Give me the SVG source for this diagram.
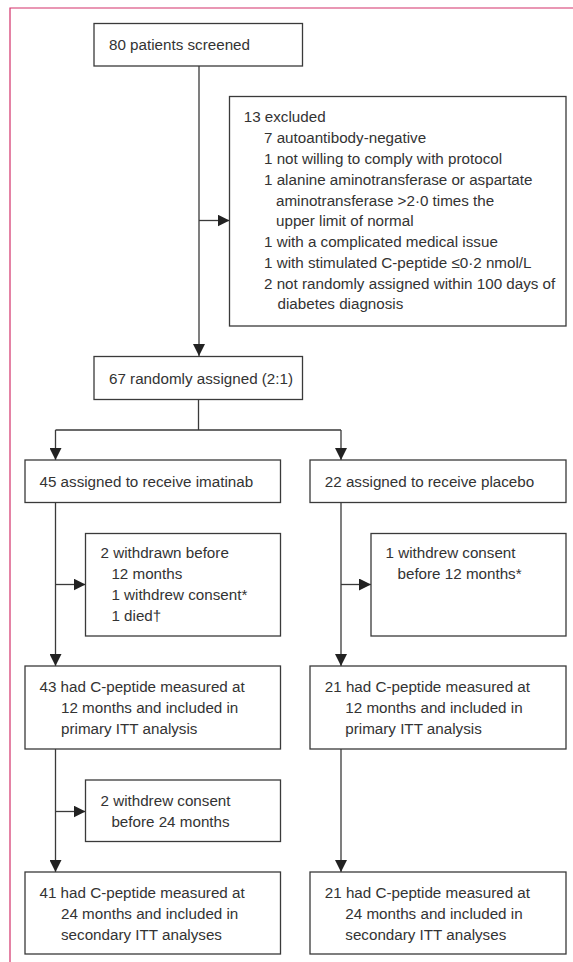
<svg xmlns="http://www.w3.org/2000/svg" width="573" height="962" viewBox="0 0 573 962">
<style>
.box{fill:#fff;stroke:#3a3a3a;stroke-width:1.3}
.t{font-family:"Liberation Sans",Arial,sans-serif;font-size:15.2px;fill:#333}
.c{fill:none;stroke:#3a3a3a;stroke-width:1.3}
.frame{fill:none;stroke:#d3306a;stroke-width:1.2}
</style>
<defs>
<marker id="ah" markerUnits="userSpaceOnUse" markerWidth="12" markerHeight="12" refX="12" refY="6" orient="auto">
<path d="M0,0 L12,6 L0,12 z" fill="#222"/>
</marker>
</defs>
<rect width="573" height="962" fill="#fff"/>
<path class="frame" d="M10,962 V8 H573"/>
<g id="connectors">
<path class="c" d="M199,66 V356" marker-end="url(#ah)"/>
<path class="c" d="M199,220.5 H229.5" marker-end="url(#ah)"/>
<path class="c" d="M198.5,399.5 V430 M55.5,430 H341"/>
<path class="c" d="M55.5,430 V460" marker-end="url(#ah)"/>
<path class="c" d="M341,430 V460" marker-end="url(#ah)"/>
<path class="c" d="M55.5,502.5 V666" marker-end="url(#ah)"/>
<path class="c" d="M55.5,584.5 H85.5" marker-end="url(#ah)"/>
<path class="c" d="M341,502.5 V666" marker-end="url(#ah)"/>
<path class="c" d="M341,584.5 H371" marker-end="url(#ah)"/>
<path class="c" d="M55.5,749 V872" marker-end="url(#ah)"/>
<path class="c" d="M55.5,811.5 H85.5" marker-end="url(#ah)"/>
<path class="c" d="M341,749 V872" marker-end="url(#ah)"/>
</g>
<g id="screened">
<rect class="box" x="94" y="23.5" width="208.5" height="42.5"/>
<text class="t" x="109" y="50">80 patients screened</text>
</g>
<g id="excluded">
<rect class="box" x="229.5" y="96.5" width="336.5" height="229.5"/>
<text class="t" x="243.7" y="122.3">13 excluded</text>
<text class="t" x="264" y="143.3">7 autoantibody-negative</text>
<text class="t" x="264" y="164">1 not willing to comply with protocol</text>
<text class="t" x="264" y="185">1 alanine aminotransferase or aspartate</text>
<text class="t" x="276" y="205.5">aminotransferase &gt;2·0 times the</text>
<text class="t" x="276" y="226">upper limit of normal</text>
<text class="t" x="264" y="247">1 with a complicated medical issue</text>
<text class="t" x="264" y="268">1 with stimulated C-peptide ≤0·2 nmol/L</text>
<text class="t" x="264" y="288.7">2 not randomly assigned within 100 days of</text>
<text class="t" x="277.5" y="309">diabetes diagnosis</text>
</g>
<g id="randomised">
<rect class="box" x="94" y="356.5" width="208.5" height="43"/>
<text class="t" x="109" y="383.5">67 randomly assigned (2:1)</text>
</g>
<g id="imatinib">
<rect class="box" x="25" y="460" width="255.5" height="42.5"/>
<text class="t" x="39.5" y="486.5">45 assigned to receive imatinab</text>
</g>
<g id="placebo">
<rect class="box" x="310" y="460" width="256" height="42.5"/>
<text class="t" x="324.8" y="486.5">22 assigned to receive placebo</text>
</g>
<g id="withdrawn-imatinib-12">
<rect class="box" x="85.5" y="533.5" width="195" height="102.5"/>
<text class="t" x="100.5" y="558.3">2 withdrawn before</text>
<text class="t" x="111.4" y="579">12 months</text>
<text class="t" x="111.4" y="600">1 withdrew consent*</text>
<text class="t" x="111.4" y="620.7">1 died†</text>
</g>
<g id="withdrawn-placebo-12">
<rect class="box" x="371" y="533.5" width="195" height="102.5"/>
<text class="t" x="385.5" y="558.3">1 withdrew consent</text>
<text class="t" x="397.5" y="579">before 12 months*</text>
</g>
<g id="imatinib-12">
<rect class="box" x="25" y="666" width="255.5" height="83"/>
<text class="t" x="39.5" y="692.3">43 had C-peptide measured at</text>
<text class="t" x="61" y="713">12 months and included in</text>
<text class="t" x="61" y="733.7">primary ITT analysis</text>
</g>
<g id="placebo-12">
<rect class="box" x="310" y="666" width="256" height="83"/>
<text class="t" x="324.8" y="692.3">21 had C-peptide measured at</text>
<text class="t" x="345.3" y="713">12 months and included in</text>
<text class="t" x="345.3" y="733.7">primary ITT analysis</text>
</g>
<g id="withdrawn-imatinib-24">
<rect class="box" x="85.5" y="780" width="195" height="61.5"/>
<text class="t" x="100.5" y="806">2 withdrew consent</text>
<text class="t" x="111.4" y="826.7">before 24 months</text>
</g>
<g id="imatinib-24">
<rect class="box" x="25" y="872" width="255.5" height="82"/>
<text class="t" x="39.5" y="898.3">41 had C-peptide measured at</text>
<text class="t" x="61" y="919">24 months and included in</text>
<text class="t" x="61" y="939.7">secondary ITT analyses</text>
</g>
<g id="placebo-24">
<rect class="box" x="310" y="872" width="256" height="82"/>
<text class="t" x="324.8" y="898.3">21 had C-peptide measured at</text>
<text class="t" x="345.3" y="919">24 months and included in</text>
<text class="t" x="345.3" y="939.7">secondary ITT analyses</text>
</g>
</svg>
